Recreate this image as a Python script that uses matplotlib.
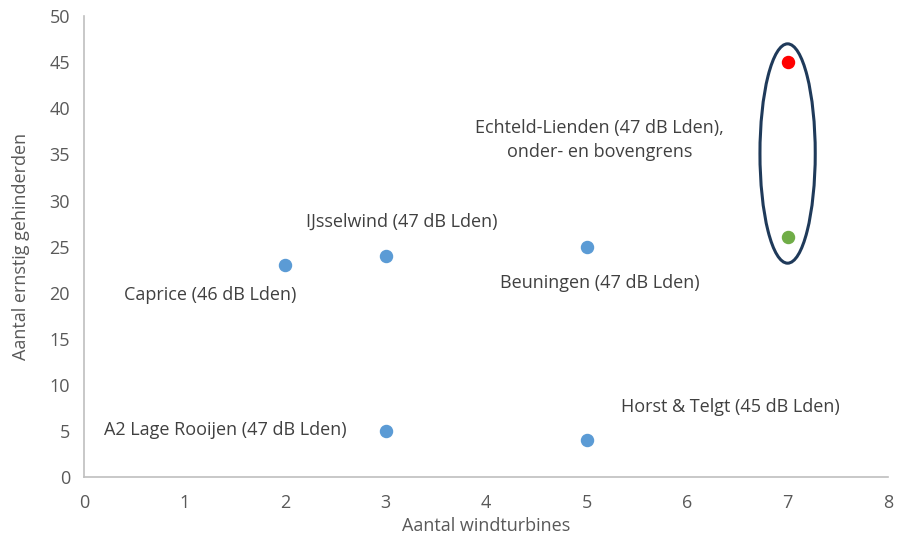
import matplotlib
matplotlib.use("Agg")
from matplotlib import pyplot as plt
from matplotlib.patches import Ellipse

plt.rcParams["font.family"] = ["Open Sans", "DejaVu Sans"]

# windparken: aantal turbines vs ernstig gehinderden
turbines = [2, 3, 5, 3, 5]
gehinderden = [23, 24, 25, 5, 4]
labels = [
    "Caprice (46 dB Lden)",
    "IJsselwind (47 dB Lden)",
    "Beuningen (47 dB Lden)",
    "A2 Lage Rooijen (47 dB Lden)",
    "Horst & Telgt (45 dB Lden)",
]
label_pos = [(1.26, 19.8), (3.16, 27.7), (5.13, 21.0), (1.41, 5.1), (6.43, 7.6)]

# Echteld-Lienden: boven- en ondergrens
echteld_x = 7
echteld_boven = 45
echteld_onder = 26
echteld_label = "Echteld-Lienden (47 dB Lden),\nonder- en bovengrens"

fig = plt.figure(figsize=(8.98, 5.40), dpi=100)
ax = fig.add_axes([0.0935, 0.1167, 0.8955, 0.8533])

ax.scatter(turbines, gehinderden, s=75, color="#5B9BD5", zorder=3)
ax.scatter([echteld_x], [echteld_boven], s=75, color="#FF0000", zorder=3)
ax.scatter([echteld_x], [echteld_onder], s=75, color="#70AD47", zorder=3)

fs = 13
for txt, (x, y) in zip(labels, label_pos):
    ax.text(x, y, txt, ha="center", va="center", fontsize=fs, color="#404040")
ax.text(5.13, 36.6, echteld_label, ha="center", va="center", fontsize=fs,
        color="#404040", linespacing=1.45)

ax.add_patch(Ellipse((7, 35.1), 0.55, 23.8, fill=False, edgecolor="#1F3A5A",
                     linewidth=2.2, zorder=2))

ax.set_xlim(0, 8)
ax.set_ylim(0, 50)
ax.set_xticks(range(0, 9))
ax.set_yticks(range(0, 51, 5))
ax.tick_params(length=0, labelsize=fs, labelcolor="#595959")
ax.tick_params(axis="x", pad=12)
ax.tick_params(axis="y", pad=10)
for side in ("top", "right"):
    ax.spines[side].set_visible(False)
for side in ("left", "bottom"):
    ax.spines[side].set_color("#BFBFBF")
    ax.spines[side].set_linewidth(1.2)

ax.set_xlabel("Aantal windturbines", fontsize=fs, color="#595959", labelpad=4)
ax.set_ylabel("Aantal ernstig gehinderden", fontsize=fs, color="#595959", labelpad=14)

fig.savefig("out.png", dpi=100)
